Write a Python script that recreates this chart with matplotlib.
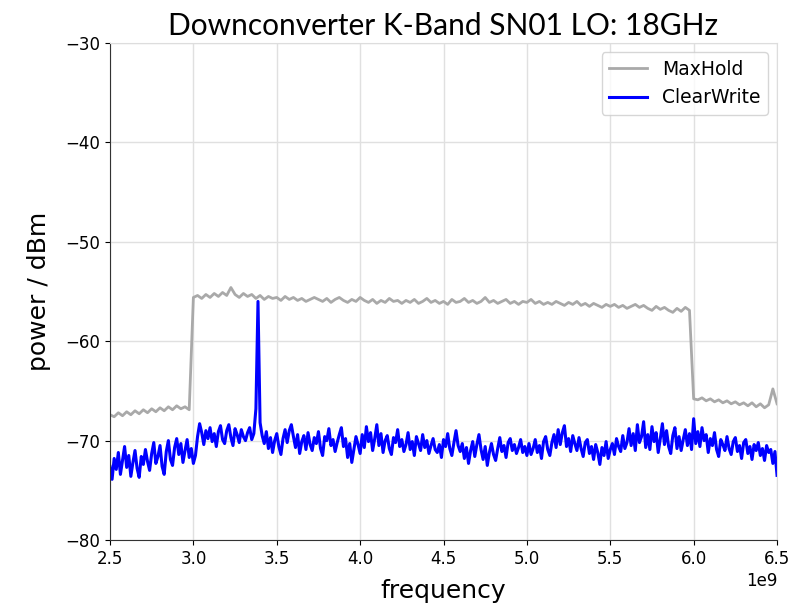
import numpy as np
import matplotlib
matplotlib.use("Agg")
import matplotlib.pyplot as plt

# MaxHold trace: 25 MHz steps from 2.5 GHz
mh_freq_ghz = np.arange(161) * 0.025 + 2.5
max_hold = [
    -67.4, -67.6, -67.2, -67.5, -67.1, -67.4, -67.0, -67.3, -66.9, -67.2,
    -66.8, -67.1, -66.7, -67.0, -66.6, -66.9, -66.5, -66.8, -66.6, -66.9,
    -55.6, -55.4, -55.7, -55.3, -55.6, -55.2, -55.5, -55.1, -55.4, -54.6,
    -55.3, -55.6, -55.2, -55.5, -55.3, -55.7, -55.4, -55.8, -55.5, -55.7,
    -55.6, -55.9, -55.5, -55.8, -55.6, -55.9, -55.7, -56.0, -55.8, -55.6,
    -55.8, -56.0, -55.7, -56.1, -55.8, -55.6, -55.9, -56.1, -55.8, -56.0,
    -55.6, -55.9, -56.1, -55.8, -56.2, -55.9, -56.1, -55.7, -56.0, -55.9,
    -56.2, -55.9, -56.1, -55.8, -56.2, -56.0, -55.7, -56.1, -55.9, -56.2,
    -56.0, -56.3, -55.8, -56.1, -56.0, -55.7, -56.1, -55.9, -56.2, -56.0,
    -55.6, -56.1, -55.9, -56.2, -56.0, -55.8, -56.2, -56.0, -56.3, -56.0,
    -56.1, -55.8, -56.2, -56.0, -56.3, -56.1, -56.3, -56.0, -56.2, -56.4,
    -56.1, -56.3, -56.0, -56.4, -56.2, -56.5, -56.2, -56.4, -56.6, -56.3,
    -56.5, -56.3, -56.6, -56.4, -56.7, -56.5, -56.3, -56.6, -56.4, -56.7,
    -56.9, -56.5, -56.8, -56.6, -56.9, -57.1, -56.7, -57.0, -56.6, -56.9,
    -65.8, -65.9, -65.7, -66.0, -65.8, -66.1, -65.9, -66.2, -66.0, -66.3,
    -66.1, -66.4, -66.2, -66.5, -66.2, -66.6, -66.3, -66.7, -66.4, -64.8,
    -66.3,
]

# ClearWrite trace: 12.5 MHz steps from 2.5 GHz
cw_freq_ghz = np.arange(321) * 0.0125 + 2.5
clear_write = [
    # 2.5 .. 3.0 GHz
    -72.6, -73.9, -71.8, -72.9, -71.2, -73.4, -72.0, -70.6, -72.7, -71.5,
    -73.6, -72.2, -71.0, -72.8, -73.7, -71.6, -72.4, -70.9, -72.1, -73.0,
    -71.3, -70.2, -72.3, -71.6, -70.5, -72.6, -73.4, -71.1, -70.0, -71.9,
    -72.5, -70.7, -69.8, -71.4, -70.3, -72.2, -71.0, -69.9, -71.7, -70.8,
    -72.3,
    # 3.0125 .. 3.375 GHz
    -71.5, -69.6, -68.3, -69.2, -70.4, -69.0, -69.8, -68.7, -70.1, -69.3,
    -70.6, -69.1, -68.5, -69.9, -70.3, -69.0, -68.4, -69.7, -70.5, -68.8,
    -69.4, -70.2, -68.9, -69.6, -70.0, -69.2, -68.7, -69.9, -69.3, -66.8,
    # LO spur
    -56.0,
    # 3.4 .. 4.0 GHz
    -68.2, -69.5, -70.3, -69.1, -70.8, -69.7, -71.2, -70.0, -69.3, -70.6,
    -71.4, -69.8, -68.9, -70.2, -69.0, -68.4, -69.6, -70.7, -69.4, -71.3,
    -70.1, -69.5, -70.9, -69.2, -70.4, -71.0, -69.7, -70.3, -69.1, -70.8,
    -71.5, -69.6, -70.0, -68.8, -70.5, -69.9, -71.1, -70.2, -69.4, -68.7,
    -70.6, -69.8, -71.7, -70.3, -72.2, -70.9, -69.6, -70.4, -71.3,
    # 4.0125 .. 5.0 GHz
    -69.4, -70.7, -68.6, -70.1, -69.2, -71.0, -69.8, -68.4, -70.5, -69.3,
    -71.2, -70.0, -69.5, -70.8, -71.4, -69.7, -70.2, -68.9, -70.6, -69.9,
    -71.1, -70.4, -69.2, -70.9, -70.1, -71.5, -69.6, -70.3, -71.0, -69.4,
    -70.7, -70.0, -71.3, -70.5, -69.8, -70.9, -71.2, -70.4, -71.7, -69.9,
    -70.6, -69.3, -70.8, -71.5, -70.2, -69.0, -70.5, -71.1, -70.3, -71.8,
    -70.7, -72.3, -71.0, -70.1, -71.6, -70.4, -69.4, -70.9, -71.9, -70.6,
    -72.5, -71.2, -70.3, -71.4, -72.0, -70.8, -69.7, -71.1, -70.5, -71.7,
    -70.2, -69.8, -71.0, -70.4, -71.3, -70.7, -69.9, -71.2, -70.6, -71.5,
    # 5.0125 .. 6.0 GHz
    -70.3, -71.4, -70.8, -69.9, -71.2, -70.5, -71.8, -70.1, -69.6, -70.9,
    -71.5, -70.2, -69.4, -70.7, -68.9, -70.4, -69.2, -68.5, -70.6, -69.8,
    -71.1, -69.5, -70.3, -71.0, -69.7, -70.8, -71.6, -70.2, -69.9, -71.3,
    -70.6, -71.9, -70.4, -71.2, -72.4, -70.7, -71.5, -70.1, -71.8, -70.9,
    -70.3, -71.4, -69.8, -70.6, -71.1, -69.5, -70.8, -70.2, -68.8, -70.5,
    -69.3, -71.0, -68.4, -70.2, -69.6, -68.1, -70.7, -69.4, -70.9, -68.6,
    -70.1, -69.2, -71.2, -69.8, -68.3, -70.4, -69.0, -70.6, -71.3, -69.5,
    -68.7, -70.8, -69.6, -71.0, -69.9, -68.9, -70.5, -69.3, -70.9, -67.8,
    # 6.0125 .. 6.5 GHz
    -70.3, -69.1, -70.6, -68.7, -70.0, -69.4, -71.2, -69.8, -70.5, -69.2,
    -70.9, -71.6, -69.9, -70.4, -71.0, -69.6, -70.8, -71.4, -70.1, -69.7,
    -71.1, -70.5, -71.8, -70.2, -69.9, -71.3, -70.6, -71.9, -70.4, -71.0,
    -70.2, -71.5, -70.8, -72.0, -70.5, -71.2, -70.9, -72.3, -71.1, -73.5,
]

fig = plt.figure(figsize=(8.1, 6.04), dpi=100)
ax = fig.add_axes([0.1358, 0.106, 0.8235, 0.8228])

ax.plot(mh_freq_ghz * 1e9, max_hold, color="darkgray", lw=2, label="MaxHold")
ax.plot(cw_freq_ghz * 1e9, clear_write, color="blue", lw=2.2, label="ClearWrite")

ax.set_xlim(2.5e9, 6.5e9)
ax.set_ylim(-80, -30)
ax.grid(True, color="#e0e0e0", lw=1)
ax.set_axisbelow(True)

for side in ["top", "right"]:
    ax.spines[side].set_color("#dddddd")
ax.spines["left"].set_color("#333333")
ax.spines["bottom"].set_color("#333333")
ax.tick_params(labelsize=12)
ax.xaxis.get_offset_text().set_fontsize(12)

ax.set_title("Downconverter K-Band SN01 LO: 18GHz", fontsize=21.5, family="Lato")
ax.set_xlabel("frequency", fontsize=18, labelpad=8)
ax.set_ylabel("power / dBm", fontsize=18, labelpad=10)
ax.legend(loc="upper right", fontsize=13.5)

fig.savefig("out.png", dpi=100)
